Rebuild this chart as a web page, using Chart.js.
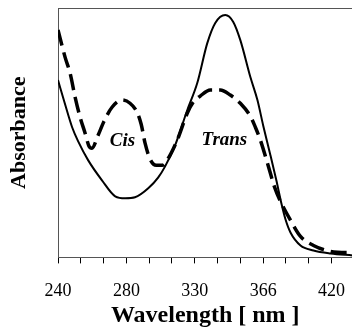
<!DOCTYPE html>
<html>
<head>
<meta charset="utf-8">
<script src="https://cdn.jsdelivr.net/npm/chart.js@4"></script>
<style>
  html, body { margin: 0; padding: 0; background: #fff; overflow: hidden; }
  #wrap { width: 362px; height: 328px; }
</style>
</head>
<body>
<div id="wrap"><canvas id="myChart"></canvas></div>
<script>
// x positions are in tick steps of the bottom axis (0 = first tick)
const tickLabels = ['240', '', '', '280', '', '', '330', '', '', '366', '', '', '420'];

const solidX = [0.00, 0.31, 0.62, 0.88, 1.32, 1.93, 2.51, 2.95, 3.38, 3.96, 4.40, 4.70, 5.14, 5.67,
  6.11, 6.55, 6.90, 7.34, 7.69, 8.00, 8.44, 8.75, 9.01, 9.32, 9.58, 9.80, 9.98, 10.20, 10.64,
  11.21, 11.96, 12.92];
const solidY = [0.711, 0.614, 0.522, 0.466, 0.390, 0.309, 0.245, 0.237, 0.241, 0.277, 0.321, 0.365,
  0.450, 0.590, 0.699, 0.859, 0.940, 0.972, 0.944, 0.871, 0.723, 0.631, 0.526, 0.410, 0.309,
  0.217, 0.153, 0.100, 0.048, 0.028, 0.016, 0.008];

const dashX = [0.00, 0.31, 0.53, 0.75, 0.97, 1.19, 1.36, 1.49, 1.76, 2.02, 2.37, 2.81, 3.16, 3.47,
  3.65, 3.82, 4.04, 4.31, 4.57, 4.79, 5.23, 5.67, 5.93, 6.24, 6.68, 7.12, 7.56, 8.00, 8.44,
  8.66, 8.88, 9.19, 9.49, 9.76, 10.20, 10.64, 11.21, 11.96, 12.70, 12.92];
const dashY = [0.912, 0.803, 0.739, 0.643, 0.562, 0.498, 0.446, 0.438, 0.490, 0.546, 0.602, 0.631,
  0.618, 0.582, 0.534, 0.458, 0.394, 0.369, 0.369, 0.390, 0.470, 0.578, 0.622, 0.647, 0.671,
  0.671, 0.651, 0.618, 0.566, 0.522, 0.470, 0.378, 0.285, 0.225, 0.149, 0.084, 0.048, 0.024,
  0.020, 0.020];

const curveLabels = [
  { text: 'Cis', x: 2.83, y: 0.446 },
  { text: 'Trans', x: 7.30, y: 0.450 }
];

const serif = '"Liberation Serif", "Times New Roman", serif';

function toPoints(xs, ys) {
  return xs.map((x, i) => ({ x: x, y: ys[i] }));
}

// top frame line and the in-plot curve names
const extras = {
  id: 'extras',
  afterDatasetsDraw(chart) {
    const c = chart.ctx;
    const a = chart.chartArea;
    c.save();
    c.strokeStyle = '#555';
    c.lineWidth = 1;
    c.beginPath();
    c.moveTo(a.left, a.top + 0.5);
    c.lineTo(a.right, a.top + 0.5);
    c.stroke();
    c.fillStyle = '#000';
    c.font = 'italic bold 19px ' + serif;
    c.textAlign = 'center';
    c.textBaseline = 'alphabetic';
    curveLabels.forEach(l => {
      c.fillText(l.text, chart.scales.x.getPixelForValue(l.x), chart.scales.y.getPixelForValue(l.y));
    });
    c.restore();
  }
};

const ctx = document.getElementById('myChart').getContext('2d');
new Chart(ctx, {
  type: 'line',
  data: {
    datasets: [{
      label: 'Trans',
      data: toPoints(solidX, solidY),
      borderColor: '#000',
      borderWidth: 2,
      pointRadius: 0,
      cubicInterpolationMode: 'monotone'
    }, {
      label: 'Cis',
      data: toPoints(dashX, dashY),
      borderColor: '#000',
      borderWidth: 3.5,
      borderDash: [16, 7],
      pointRadius: 0,
      cubicInterpolationMode: 'monotone'
    }]
  },
  options: {
    responsive: true,
    maintainAspectRatio: false,
    animation: false,
    layout: { padding: { left: 6, top: 8, right: 0, bottom: 0 } },
    plugins: {
      legend: { display: false },
      tooltip: { enabled: false }
    },
    scales: {
      x: {
        type: 'linear',
        min: 0,
        max: 12.92,
        grid: { drawOnChartArea: false, drawTicks: true, tickLength: 6, color: '#000' },
        border: { display: true, color: '#555', width: 1 },
        ticks: {
          stepSize: 1,
          includeBounds: false,
          autoSkip: false,
          maxRotation: 0,
          padding: 17,
          color: '#000',
          font: { family: serif, size: 18 },
          callback: v => tickLabels[v] ?? ''
        },
        title: {
          display: true,
          text: 'Wavelength [ nm ]',
          color: '#000',
          font: { family: serif, size: 24, weight: 'bold', lineHeight: 1.0 },
          padding: { top: -15, bottom: 0 }
        }
      },
      y: {
        min: 0,
        max: 1,
        grid: { drawOnChartArea: false, drawTicks: false },
        border: { display: true, color: '#555', width: 1 },
        ticks: { display: false },
        title: {
          display: true,
          text: 'Absorbance',
          color: '#000',
          font: { family: serif, size: 22, weight: 'bold', lineHeight: 1.2 },
          padding: { top: 0, bottom: 25.6 }
        }
      }
    }
  },
  plugins: [extras]
});
</script>
</body>
</html>
